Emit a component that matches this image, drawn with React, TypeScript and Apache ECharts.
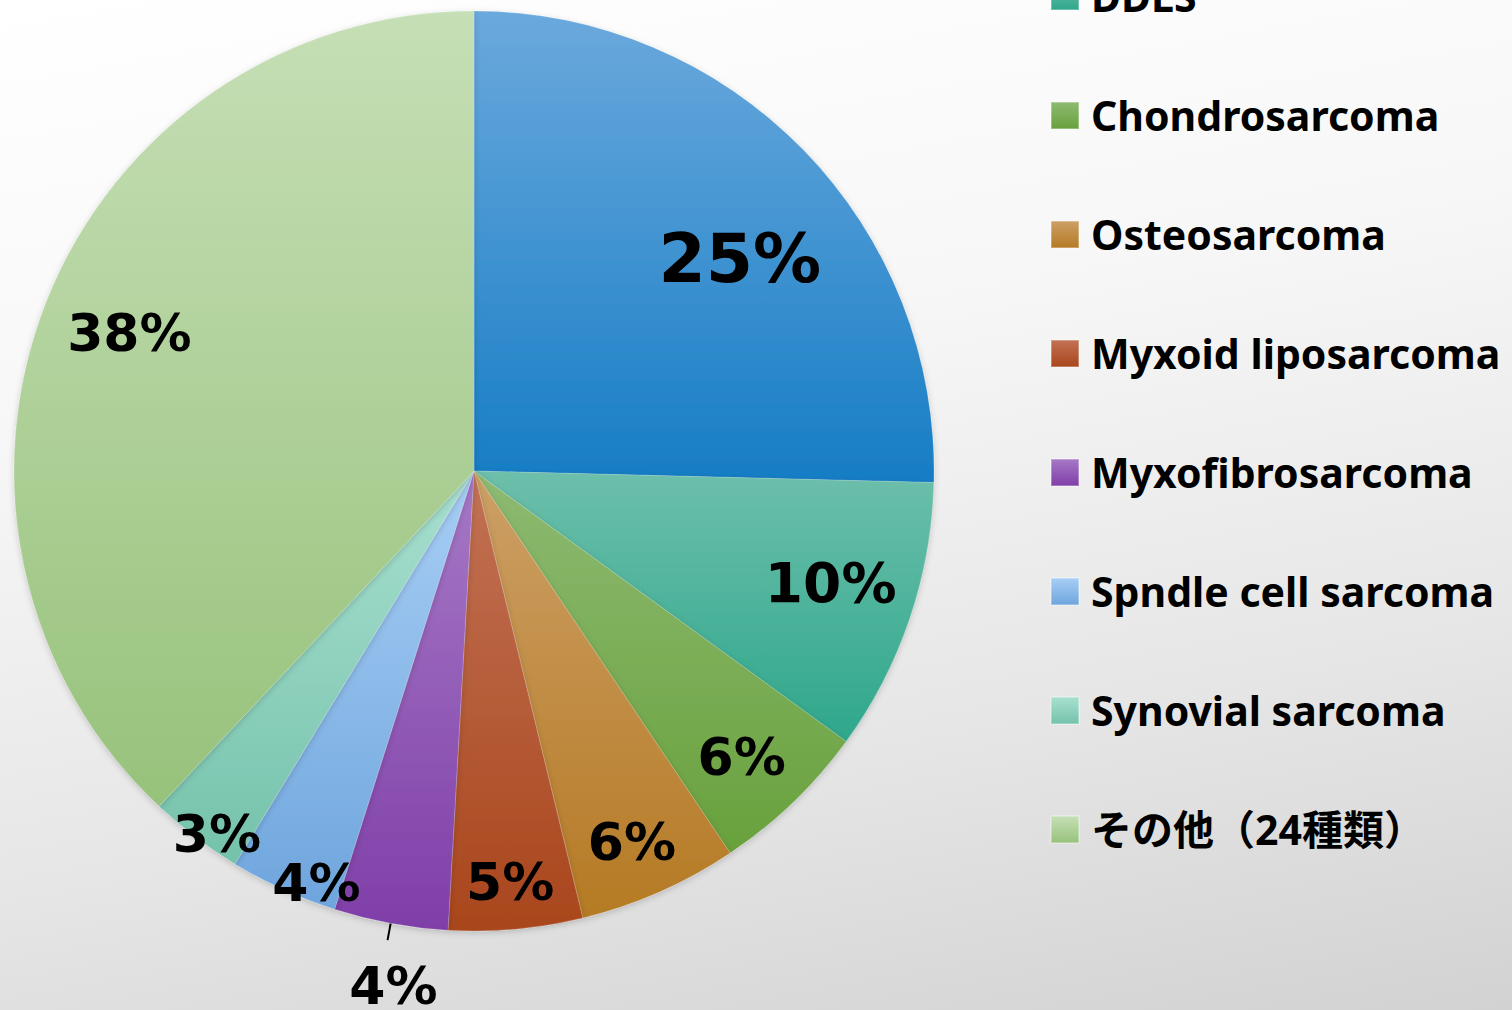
import React, { useEffect, useRef } from "react";
import * as echarts from "echarts";

// ---- data ----
const categories = [
  "UPS",
  "DDLS",
  "Chondrosarcoma",
  "Osteosarcoma",
  "Myxoid liposarcoma",
  "Myxofibrosarcoma",
  "Spndle cell sarcoma",
  "Synovial sarcoma",
  "その他（24種類）",
];
const shares = [25.4, 9.6, 5.6, 5.6, 4.7, 4.0, 3.8, 3.3, 38.0];
const legendNames = categories.slice(1);

// ---- style ----
const topColors = ["#6BA9DD", "#6DBFAB", "#8EBA72", "#CDA066", "#C27255", "#A679C6", "#A8CEF5", "#A9E0D0", "#C6DFB6"];
const bottomColors = ["#167DC5", "#2EA78B", "#68A13C", "#B57A24", "#A9461C", "#7F3EA8", "#6EA5DD", "#74C2AB", "#97C27B"];
const labelSizes = [68, 55, 52, 52, 52, 52, 52, 52, 52];
const labelNudges: [number, number][] = [
  [99, -50],
  [136, 37],
  [106, 118],
  [64, 158],
  [15, 179],
  [55, 46],
  [-61, 200],
  [-116, 178],
  [-128, -52],
];
const OUTSIDE_INDEX = 5;

export default function App() {
  const ref = useRef<HTMLDivElement>(null);
  useEffect(() => {
    if (!ref.current) return;
    const chart = echarts.init(ref.current, null, { renderer: "svg" });
    const data = categories.map((name, i) => ({
      name,
      value: shares[i],
      itemStyle: {
        color: new echarts.graphic.LinearGradient(0, 0, 0, 1, [
          { offset: 0, color: topColors[i] },
          { offset: 1, color: bottomColors[i] },
        ]),
      },
      label: {
        position: i === OUTSIDE_INDEX ? "outside" : "inside",
        fontSize: labelSizes[i],
      },
      labelLine: {
        show: i === OUTSIDE_INDEX,
        length: 17,
        length2: 0,
        lineStyle: { color: "#000", width: 2 },
      },
    }));
    chart.setOption({
      animation: false,
      backgroundColor: "transparent",
      legend: {
        data: legendNames,
        orient: "vertical",
        left: 1050,
        top: -24,
        padding: 0,
        icon: "rect",
        itemWidth: 28,
        itemHeight: 27,
        itemGap: 78,
        selectedMode: false,
        textStyle: {
          fontFamily: "'Noto Sans', 'Noto Sans CJK JP', sans-serif",
          fontWeight: "bold",
          fontSize: 41,
          lineHeight: 27,
          color: "#000",
          padding: [0, 0, 0, 7],
        },
      },
      series: [
        {
          type: "pie",
          center: [474, 471],
          radius: 460,
          startAngle: 90,
          clockwise: true,
          avoidLabelOverlap: false,
          itemStyle: {
            borderColor: "rgba(255,255,255,0.3)",
            borderWidth: 0.5,
            shadowColor: "rgba(0,0,0,0.18)",
            shadowBlur: 6,
            shadowOffsetY: 2,
          },
          label: {
            color: "#000",
            fontFamily: "'DejaVu Sans', sans-serif",
            fontWeight: "bold",
            formatter: (p: any) => Math.round(p.percent) + "%",
          },
          labelLayout: (p: any) => {
            const n = labelNudges[p.dataIndex];
            return { dx: n[0], dy: n[1] };
          },
          emphasis: { disabled: true },
          data,
        },
      ],
    });
    return () => chart.dispose();
  }, []);
  return (
    <div
      style={{
        position: "absolute",
        left: 0,
        top: 0,
        width: 1512,
        height: 1010,
        background: "linear-gradient(170deg, #ffffff 0%, #f7f7f7 35%, #e6e6e6 70%, #d2d2d2 100%)",
        overflow: "hidden",
      }}
    >
      <div ref={ref} style={{ width: 1512, height: 1010 }} />
    </div>
  );
}
